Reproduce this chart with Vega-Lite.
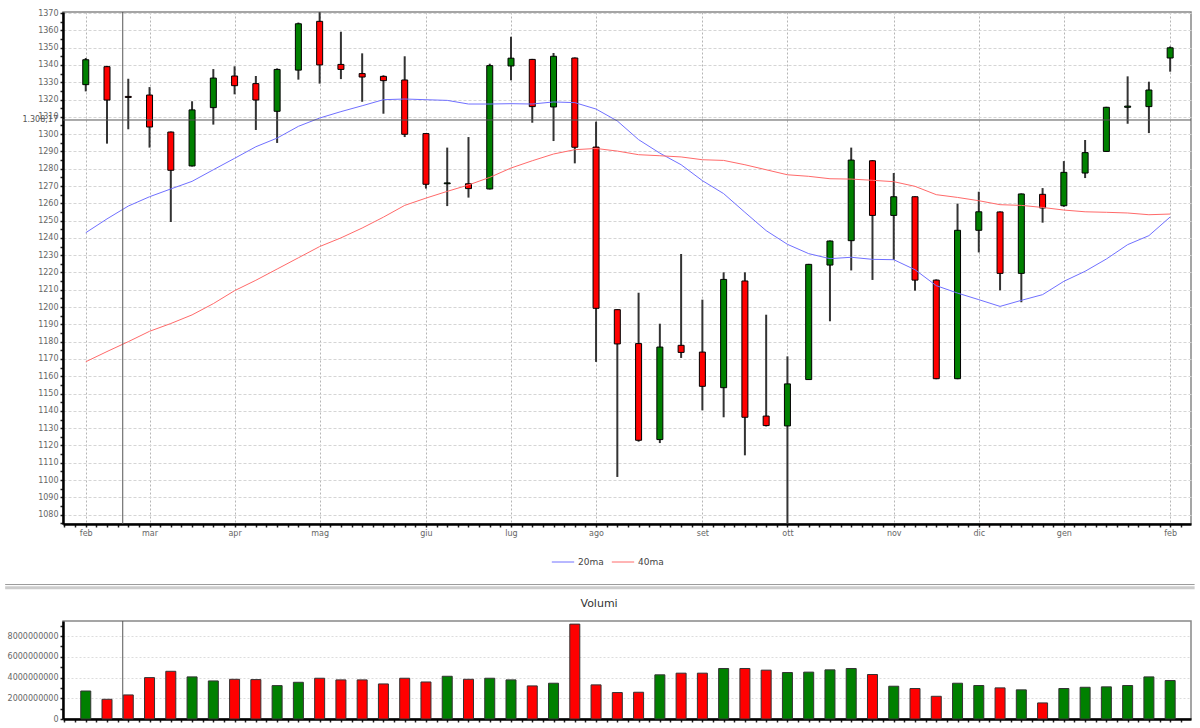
{
  "$schema": "https://vega.github.io/schema/vega-lite/v6.json",
  "padding": {"left": 2, "top": 8, "right": 5, "bottom": 5},
  "background": "white",
  "config": {
    "font": "DejaVu Sans",
    "view": {"stroke": "#888", "strokeWidth": 1.5},
    "axis": {
      "labelFont": "DejaVu Sans",
      "labelFontSize": 8,
      "labelColor": "#666",
      "domainColor": "#000",
      "domainWidth": 2.5,
      "tickColor": "#222",
      "tickWidth": 1.5,
      "tickSize": 3,
      "labelPadding": 2,
      "labelOverlap": false,
      "labelFlush": false
    },
    "concat": {"spacing": 5}
  },
  "datasets": {
    "settimane": [
      {"i": 0, "o": 1328.6, "h": 1344.0, "l": 1324.7, "c": 1343.0, "v": 2700000000, "20ma": 1243.0, "40ma": 1168.4},
      {"i": 1, "o": 1339.0, "h": 1339.5, "l": 1294.5, "c": 1319.7, "v": 1900000000, "20ma": 1251.0, "40ma": 1174.3},
      {"i": 2, "o": 1321.8, "h": 1332.0, "l": 1302.8, "c": 1321.2, "v": 2320000000, "20ma": 1258.4, "40ma": 1180.0},
      {"i": 3, "o": 1322.6, "h": 1327.2, "l": 1292.2, "c": 1304.1, "v": 3990000000, "20ma": 1263.8, "40ma": 1186.0},
      {"i": 4, "o": 1301.2, "h": 1301.5, "l": 1249.2, "c": 1279.1, "v": 4600000000, "20ma": 1268.3, "40ma": 1190.5},
      {"i": 5, "o": 1281.6, "h": 1319.0, "l": 1281.3, "c": 1314.0, "v": 4060000000, "20ma": 1272.7, "40ma": 1195.5},
      {"i": 6, "o": 1315.3, "h": 1337.6, "l": 1305.5, "c": 1332.4, "v": 3670000000, "20ma": 1279.4, "40ma": 1202.0},
      {"i": 7, "o": 1333.6, "h": 1339.2, "l": 1323.0, "c": 1328.0, "v": 3830000000, "20ma": 1286.0, "40ma": 1209.5},
      {"i": 8, "o": 1329.2, "h": 1333.6, "l": 1302.4, "c": 1319.7, "v": 3800000000, "20ma": 1292.7, "40ma": 1215.5},
      {"i": 9, "o": 1313.2, "h": 1338.0, "l": 1294.9, "c": 1337.4, "v": 3220000000, "20ma": 1297.7, "40ma": 1222.0},
      {"i": 10, "o": 1337.0, "h": 1364.5, "l": 1331.5, "c": 1363.8, "v": 3540000000, "20ma": 1304.5, "40ma": 1228.5},
      {"i": 11, "o": 1365.2, "h": 1370.5, "l": 1329.2, "c": 1340.0, "v": 3930000000, "20ma": 1309.3, "40ma": 1235.0},
      {"i": 12, "o": 1340.3, "h": 1359.2, "l": 1331.8, "c": 1337.4, "v": 3770000000, "20ma": 1313.0, "40ma": 1240.0},
      {"i": 13, "o": 1335.0, "h": 1346.7, "l": 1318.7, "c": 1333.0, "v": 3770000000, "20ma": 1316.4, "40ma": 1245.7},
      {"i": 14, "o": 1333.4, "h": 1334.0, "l": 1311.8, "c": 1330.9, "v": 3380000000, "20ma": 1319.9, "40ma": 1252.0},
      {"i": 15, "o": 1331.3, "h": 1345.0, "l": 1298.3, "c": 1299.9, "v": 3930000000, "20ma": 1320.3, "40ma": 1258.8},
      {"i": 16, "o": 1300.3, "h": 1300.5, "l": 1268.5, "c": 1271.0, "v": 3570000000, "20ma": 1319.9, "40ma": 1263.0},
      {"i": 17, "o": 1271.3, "h": 1292.2, "l": 1258.4, "c": 1271.8, "v": 4120000000, "20ma": 1319.5, "40ma": 1266.9},
      {"i": 18, "o": 1271.3, "h": 1298.3, "l": 1263.3, "c": 1268.5, "v": 3830000000, "20ma": 1317.4, "40ma": 1270.6},
      {"i": 19, "o": 1268.3, "h": 1340.7, "l": 1268.0, "c": 1339.6, "v": 3930000000, "20ma": 1317.4, "40ma": 1275.0},
      {"i": 20, "o": 1339.4, "h": 1356.3, "l": 1331.1, "c": 1343.9, "v": 3770000000, "20ma": 1317.6, "40ma": 1280.4},
      {"i": 21, "o": 1343.2, "h": 1343.5, "l": 1306.6, "c": 1315.9, "v": 3190000000, "20ma": 1317.4, "40ma": 1284.6},
      {"i": 22, "o": 1315.7, "h": 1346.9, "l": 1296.0, "c": 1345.0, "v": 3450000000, "20ma": 1318.6, "40ma": 1288.5},
      {"i": 23, "o": 1344.0, "h": 1344.3, "l": 1283.1, "c": 1292.4, "v": 9150000000, "20ma": 1318.2, "40ma": 1291.0},
      {"i": 24, "o": 1292.5, "h": 1307.2, "l": 1168.3, "c": 1199.3, "v": 3290000000, "20ma": 1314.5, "40ma": 1291.7},
      {"i": 25, "o": 1198.5, "h": 1198.7, "l": 1101.8, "c": 1178.7, "v": 2550000000, "20ma": 1307.6, "40ma": 1290.2},
      {"i": 26, "o": 1178.9, "h": 1208.3, "l": 1122.2, "c": 1123.0, "v": 2580000000, "20ma": 1296.8, "40ma": 1288.1},
      {"i": 27, "o": 1123.4, "h": 1190.4, "l": 1121.4, "c": 1176.9, "v": 4260000000, "20ma": 1289.0, "40ma": 1287.5},
      {"i": 28, "o": 1177.9, "h": 1230.7, "l": 1170.6, "c": 1173.8, "v": 4420000000, "20ma": 1282.3, "40ma": 1286.8},
      {"i": 29, "o": 1174.0, "h": 1204.3, "l": 1140.3, "c": 1154.2, "v": 4420000000, "20ma": 1273.1, "40ma": 1285.2},
      {"i": 30, "o": 1153.4, "h": 1220.1, "l": 1136.3, "c": 1216.0, "v": 4870000000, "20ma": 1265.6, "40ma": 1284.8},
      {"i": 31, "o": 1215.1, "h": 1220.1, "l": 1114.3, "c": 1136.3, "v": 4870000000, "20ma": 1254.8, "40ma": 1282.3},
      {"i": 32, "o": 1137.0, "h": 1195.6, "l": 1131.0, "c": 1131.5, "v": 4710000000, "20ma": 1244.2, "40ma": 1279.4},
      {"i": 33, "o": 1131.3, "h": 1171.5, "l": 1074.8, "c": 1155.6, "v": 4480000000, "20ma": 1236.3, "40ma": 1276.5},
      {"i": 34, "o": 1158.1, "h": 1225.0, "l": 1158.0, "c": 1224.7, "v": 4520000000, "20ma": 1230.9, "40ma": 1275.6},
      {"i": 35, "o": 1224.3, "h": 1238.5, "l": 1191.8, "c": 1238.2, "v": 4740000000, "20ma": 1228.0, "40ma": 1274.2},
      {"i": 36, "o": 1238.4, "h": 1292.2, "l": 1221.2, "c": 1285.0, "v": 4870000000, "20ma": 1228.8, "40ma": 1274.0},
      {"i": 37, "o": 1284.6, "h": 1285.0, "l": 1215.7, "c": 1253.0, "v": 4290000000, "20ma": 1227.6, "40ma": 1273.3},
      {"i": 38, "o": 1253.0, "h": 1277.5, "l": 1227.2, "c": 1263.8, "v": 3160000000, "20ma": 1227.4, "40ma": 1272.5},
      {"i": 39, "o": 1263.8, "h": 1264.0, "l": 1209.5, "c": 1215.6, "v": 2940000000, "20ma": 1221.6, "40ma": 1269.8},
      {"i": 40, "o": 1215.6, "h": 1216.0, "l": 1158.3, "c": 1158.6, "v": 2190000000, "20ma": 1212.4, "40ma": 1265.0},
      {"i": 41, "o": 1158.6, "h": 1259.8, "l": 1158.3, "c": 1244.4, "v": 3450000000, "20ma": 1208.1, "40ma": 1263.4},
      {"i": 42, "o": 1244.4, "h": 1266.7, "l": 1231.6, "c": 1255.1, "v": 3230000000, "20ma": 1204.3, "40ma": 1261.5},
      {"i": 43, "o": 1255.0, "h": 1255.3, "l": 1209.7, "c": 1219.5, "v": 3000000000, "20ma": 1200.4, "40ma": 1259.2},
      {"i": 44, "o": 1219.5, "h": 1265.7, "l": 1202.8, "c": 1265.4, "v": 2810000000, "20ma": 1203.9, "40ma": 1258.8},
      {"i": 45, "o": 1265.2, "h": 1268.8, "l": 1248.8, "c": 1257.3, "v": 1550000000, "20ma": 1207.2, "40ma": 1257.6},
      {"i": 46, "o": 1258.6, "h": 1284.4, "l": 1258.0, "c": 1277.9, "v": 2940000000, "20ma": 1214.9, "40ma": 1256.1},
      {"i": 47, "o": 1277.5, "h": 1296.6, "l": 1274.6, "c": 1289.3, "v": 3060000000, "20ma": 1220.7, "40ma": 1255.1},
      {"i": 48, "o": 1290.0, "h": 1315.8, "l": 1289.8, "c": 1315.5, "v": 3100000000, "20ma": 1227.8, "40ma": 1254.8},
      {"i": 49, "o": 1315.5, "h": 1333.4, "l": 1306.0, "c": 1316.2, "v": 3230000000, "20ma": 1236.1, "40ma": 1254.4},
      {"i": 50, "o": 1315.9, "h": 1330.3, "l": 1300.6, "c": 1325.5, "v": 4060000000, "20ma": 1241.3, "40ma": 1253.4},
      {"i": 51, "o": 1344.0, "h": 1350.7, "l": 1336.1, "c": 1349.9, "v": 3710000000, "20ma": 1252.1, "40ma": 1253.8}
    ]
  },
  "vconcat": [
    {
      "width": 1128,
      "height": 512,
      "data": {"name": "settimane"},
      "layer": [
        {
          "mark": {"type": "rule", "color": "#333", "strokeWidth": 2},
          "encoding": {
            "x": {
              "field": "i",
              "type": "quantitative",
              "title": null,
              "scale": {"domain": [-1.07, 51.98], "nice": false, "zero": false, "padding": 0},
              "axis": {
                "tickCount": 106,
                "grid": true,
                "gridColor": "#b5b5b5",
                "gridDash": [2, 2],
                "gridOpacity": {"condition": {"test": "indexof([0,3,7,11,16,20,24,29,33,38,42,46,51], datum.value) >= 0", "value": 1}, "value": 0},
                "labelExpr": "indexof([0,3,7,11,16,20,24,29,33,38,42,46,51], datum.value) >= 0 ? ['feb','mar','apr','mag','giu','lug','ago','set','ott','nov','dic','gen','feb'][indexof([0,3,7,11,16,20,24,29,33,38,42,46,51], datum.value)] : ''"
              }
            },
            "y": {
              "field": "l",
              "type": "quantitative",
              "title": null,
              "scale": {"domain": [1074.6, 1370.6], "nice": false, "zero": false, "padding": 0},
              "axis": {
                "tickCount": 59,
                "grid": true,
                "gridColor": "#d5d5d5",
                "gridDash": [3, 2],
                "gridOpacity": {"condition": {"test": "datum.value % 10 === 0", "value": 1}, "value": 0},
                "labelExpr": "datum.value % 10 === 0 ? format(datum.value, 'd') : ''"
              }
            },
            "y2": {"field": "h"}
          }
        },
        {
          "mark": {"type": "bar", "size": 6, "stroke": "#000", "strokeWidth": 1, "orient": "vertical"},
          "encoding": {
            "x": {"field": "i", "type": "quantitative", "title": null},
            "y": {"field": "o", "type": "quantitative", "title": null},
            "y2": {"field": "c"},
            "fill": {"condition": {"test": "datum.c >= datum.o", "value": "#008000"}, "value": "#ff0000"}
          }
        },
        {
          "transform": [{"fold": ["20ma", "40ma"], "as": ["serie", "valore"]}],
          "mark": {"type": "line", "strokeWidth": 1},
          "encoding": {
            "x": {"field": "i", "type": "quantitative", "title": null},
            "y": {"field": "valore", "type": "quantitative", "title": null},
            "stroke": {
              "field": "serie",
              "type": "nominal",
              "scale": {"domain": ["20ma", "40ma"], "range": ["#7070ff", "#ff6a6a"]},
              "legend": {
                "title": null,
                "orient": "none",
                "legendX": 488,
                "legendY": 538,
                "direction": "horizontal",
                "symbolType": "stroke",
                "symbolSize": 500,
                "symbolStrokeWidth": 1,
                "labelFont": "DejaVu Sans",
                "labelFontSize": 9,
                "labelColor": "#444",
                "labelOffset": 3,
                "columnPadding": 5
              }
            }
          }
        },
        {
          "data": {"values": [{}]},
          "mark": {"type": "rule", "color": "#555", "strokeWidth": 1},
          "encoding": {"y": {"datum": 1308.17}}
        },
        {
          "data": {"values": [{}]},
          "mark": {"type": "rule", "color": "#555", "strokeWidth": 1},
          "encoding": {"x": {"datum": 1.74}}
        },
        {
          "data": {"values": [{}]},
          "mark": {"type": "text", "align": "right", "baseline": "middle", "dx": -5, "fontSize": 8, "color": "#555", "font": "DejaVu Sans"},
          "encoding": {"x": {"datum": -1.07}, "y": {"datum": 1308.17}, "text": {"value": "1.308,17"}}
        },
        {
          "data": {"values": [{}]},
          "mark": {"type": "rule", "color": "#999", "strokeWidth": 1},
          "encoding": {"x": {"datum": -3.79}, "x2": {"datum": 52.15}, "y": {"datum": 1039.6}}
        },
        {
          "data": {"values": [{}]},
          "mark": {"type": "rule", "color": "#ccc", "strokeWidth": 3},
          "encoding": {"x": {"datum": -3.79}, "x2": {"datum": 52.15}, "y": {"datum": 1037.7}}
        }
      ]
    },
    {
      "width": 1128,
      "height": 98,
      "title": {"text": "Volumi", "fontSize": 11, "fontWeight": "normal", "color": "#333", "font": "DejaVu Sans", "frame": "bounds", "anchor": "middle", "offset": 12},
      "data": {"name": "settimane"},
      "layer": [
        {
          "mark": {"type": "bar", "size": 10, "stroke": "#333", "strokeWidth": 1, "orient": "vertical"},
          "encoding": {
            "x": {
              "field": "i",
              "type": "quantitative",
              "title": null,
              "scale": {"domain": [-1.07, 51.98], "nice": false, "zero": false, "padding": 0},
              "axis": {"tickCount": 106, "grid": false, "labels": false}
            },
            "y": {
              "field": "v",
              "type": "quantitative",
              "title": null,
              "scale": {"domain": [0, 9450000000], "nice": false, "padding": 0},
              "axis": {
                "values": [0, 1000000000, 2000000000, 3000000000, 4000000000, 5000000000, 6000000000, 7000000000, 8000000000, 9000000000],
                "grid": true,
                "gridColor": "#dddddd",
                "gridDash": [2, 2],
                "gridOpacity": {"condition": {"test": "datum.value % 2000000000 === 0", "value": 1}, "value": 0},
                "labelExpr": "datum.value % 2000000000 === 0 ? format(datum.value, 'd') : ''"
              }
            },
            "fill": {"condition": {"test": "datum.c >= datum.o", "value": "#008000"}, "value": "#ff0000"}
          }
        },
        {
          "data": {"values": [{}]},
          "mark": {"type": "rule", "color": "#555", "strokeWidth": 1},
          "encoding": {"x": {"datum": 1.74}}
        }
      ]
    }
  ]
}
